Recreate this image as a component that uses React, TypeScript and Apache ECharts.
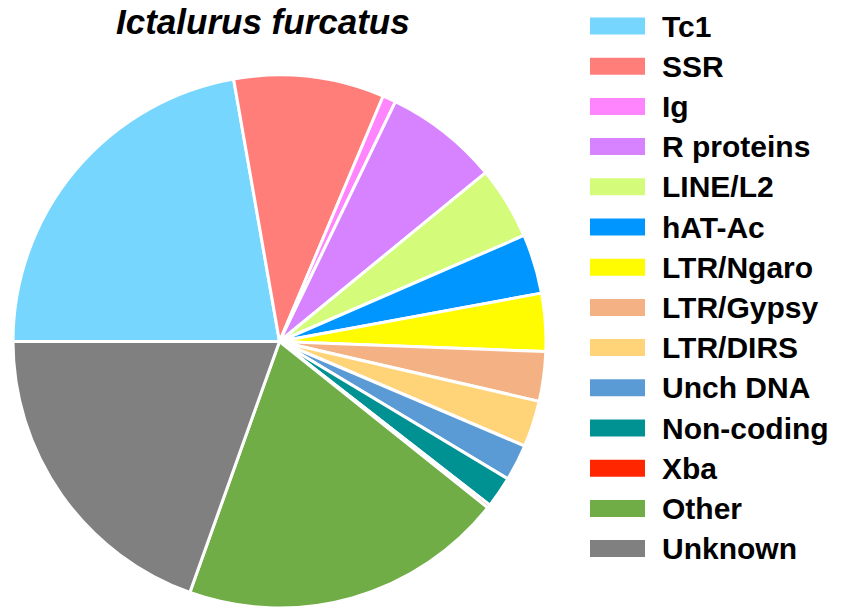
import * as echarts from 'echarts'
import React, { useEffect, useRef } from 'react'

const categories = [
  'Tc1',
  'SSR',
  'Ig',
  'R proteins',
  'LINE/L2',
  'hAT-Ac',
  'LTR/Ngaro',
  'LTR/Gypsy',
  'LTR/DIRS',
  'Unch DNA',
  'Non-coding',
  'Xba',
  'Other',
  'Unknown',
]
const shares = [22.2, 9.1, 0.8, 6.9, 4.4, 3.6, 3.5, 3.0, 2.8, 2.2, 1.9, 0.2, 19.7, 19.5]
const colors = [
  '#76d6fd',
  '#ff7e79',
  '#ff85ff',
  '#d783ff',
  '#d4fb79',
  '#0096ff',
  '#fffb00',
  '#f4b183',
  '#ffd479',
  '#5b9bd5',
  '#009193',
  '#ff2600',
  '#70ad47',
  '#808080',
]

export default function App() {
  const chartRef = useRef(null)

  useEffect(() => {
    const chart = echarts.init(chartRef.current, null, { renderer: 'svg' })

    const option = {
      animation: false,
      title: {
        text: 'Ictalurus furcatus',
        left: 116,
        top: 4,
        padding: 0,
        textStyle: {
          fontFamily: 'Liberation Sans',
          fontSize: 35,
          fontWeight: 'bold',
          fontStyle: 'italic',
          color: '#000',
        },
      },
      legend: {
        orient: 'vertical',
        left: 588,
        top: 11,
        padding: 0,
        itemWidth: 57,
        itemHeight: 19,
        itemGap: 10.2,
        icon: 'rect',
        selectedMode: false,
        data: categories,
        textStyle: {
          fontFamily: 'Liberation Sans',
          fontSize: 30,
          fontWeight: 'bold',
          color: '#000',
          padding: [0, 0, 0, 11],
        },
      },
      series: [
        {
          type: 'pie',
          center: [279.5, 341.5],
          radius: 266.5,
          startAngle: 180,
          clockwise: true,
          label: { show: false },
          labelLine: { show: false },
          emphasis: { disabled: true },
          itemStyle: {
            borderColor: '#fff',
            borderWidth: 3,
          },
          data: categories.map((name, i) => ({
            name,
            value: shares[i],
            itemStyle: { color: colors[i] },
          })),
        },
      ],
    }

    chart.setOption(option)

    return () => {
      chart.dispose()
    }
  }, [])

  return (
    <div
      ref={chartRef}
      style={{ position: 'fixed', left: 0, top: 0, width: '841px', height: '615px', background: '#fff' }}
    />
  )
}
